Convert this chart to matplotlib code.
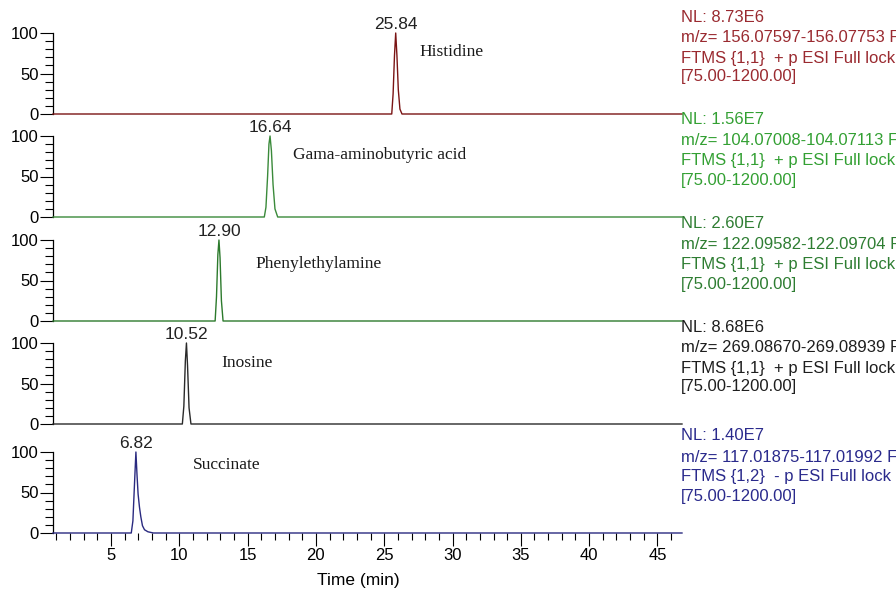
import numpy as np
import matplotlib
matplotlib.use('Agg')
import matplotlib.pyplot as plt
from matplotlib.ticker import MultipleLocator

plt.rcParams['font.family'] = ['Liberation Sans', 'DejaVu Sans']

# extracted ion chromatograms, one per compound (time in min, relative abundance in %)
compounds = ['Histidine', 'Gama-aminobutyric acid', 'Phenylethylamine', 'Inosine', 'Succinate']

his_time = [0.75, 25.55, 25.65, 25.75, 25.84, 25.93, 26.03, 26.15, 26.30, 46.8]
his_abund = [0, 0, 25, 72, 100, 72, 30, 6, 0, 0]

gaba_time = [0.75, 16.22, 16.34, 16.46, 16.56, 16.64, 16.74, 16.86, 17.00, 17.20, 46.8]
gaba_abund = [0, 0, 12, 50, 90, 100, 82, 40, 10, 0, 0]

pea_time = [0.75, 12.62, 12.72, 12.82, 12.90, 12.98, 13.08, 13.20, 46.8]
pea_abund = [0, 0, 30, 82, 100, 78, 25, 0, 0]

ino_time = [0.75, 10.22, 10.33, 10.44, 10.52, 10.60, 10.71, 10.85, 46.8]
ino_abund = [0, 0, 22, 78, 100, 72, 20, 0, 0]

suc_time = [0.75, 6.48, 6.60, 6.72, 6.82, 6.90, 6.98, 7.08, 7.18, 7.30, 7.45, 7.70, 8.10, 46.8]
suc_abund = [0, 0, 15, 62, 100, 72, 48, 32, 20, 9, 4, 1.5, 0, 0]

traces = [(his_time, his_abund), (gaba_time, gaba_abund), (pea_time, pea_abund),
          (ino_time, ino_abund), (suc_time, suc_abund)]

nl_values = ['8.73E6', '1.56E7', '2.60E7', '8.68E6', '1.40E7']
mz_ranges = ['156.07597-156.07753', '104.07008-104.07113', '122.09582-122.09704',
             '269.08670-269.08939', '117.01875-117.01992']
scan_filters = ['FTMS {1,1}  + p ESI Full lock', 'FTMS {1,1}  + p ESI Full lock',
                'FTMS {1,1}  + p ESI Full lock', 'FTMS {1,1}  + p ESI Full lock',
                'FTMS {1,2}  - p ESI Full lock']
scan_range = '[75.00-1200.00]'

line_colors = ['#7a1414', '#3a8a3a', '#2c7a2c', '#2a2a2a', '#2a2a80']
text_colors = ['#9a2a30', '#33a033', '#2e7d32', '#1e1e1e', '#2a2a8c']

# where the compound names sit (time, abundance)
name_pos = [(27.55, 71.5), (18.3, 71), (15.6, 65), (13.1, 70), (11.0, 79)]

W, H = 896, 591
fig = plt.figure(figsize=(W / 100, H / 100), dpi=100)

x0_px, x1_px = 53, 682
zero_px = [114, 217, 321, 424, 533]
panel_h = 81

for k, ((t, a), name) in enumerate(zip(traces, compounds)):
    bottom = 1 - zero_px[k] / H
    ax = fig.add_axes([x0_px / W, bottom, (x1_px - x0_px) / W, panel_h / H])
    ax.plot(t, a, color=line_colors[k], lw=1.0, clip_on=False, zorder=3)
    ax.set_xlim(0.75, 46.8)
    ax.set_ylim(0, 100)

    for side in ['top', 'right', 'bottom']:
        ax.spines[side].set_visible(False)
    ax.spines['left'].set_linewidth(0.9)
    ax.set_yticks([0, 50, 100])
    ax.yaxis.set_minor_locator(MultipleLocator(10))
    ax.tick_params(axis='y', which='major', length=9.5, width=0.8, pad=1, labelsize=12)
    ax.tick_params(axis='y', which='minor', length=5.5, width=0.8)

    if k < len(traces) - 1:
        ax.set_xticks([])
    else:
        ax.xaxis.set_minor_locator(MultipleLocator(1))
        ax.set_xticks(range(5, 46, 5))
        ax.tick_params(axis='x', which='major', length=9.5, width=0.8, pad=1.5, labelsize=12)
        ax.tick_params(axis='x', which='minor', length=5, width=0.8)

    # retention time label on top of the peak
    i_max = int(np.argmax(a))
    ax.annotate(f'{t[i_max]:.2f}', xy=(t[i_max], a[i_max]), xytext=(0, 3),
                textcoords='offset points', ha='center', va='baseline',
                fontsize=12.5, color='#222222', annotation_clip=False)

    nx, ny = name_pos[k]
    ax.text(nx, ny, name, fontsize=12.5, family='Liberation Serif',
            color='#1a1a1a', ha='left', va='baseline')

    # scan header at the right of each trace
    top_px = zero_px[k] - panel_h
    header = [f'NL: {nl_values[k]}', f'm/z= {mz_ranges[k]} F', scan_filters[k], scan_range]
    for line, dy in zip(header, [-16, 5, 25, 44]):
        fig.text(681 / W, 1 - (top_px + dy) / H, line, fontsize=12,
                 color=text_colors[k], ha='left', va='center')

fig.text(358 / W, 1 - 580 / H, 'Time (min)', fontsize=12.5, ha='center', va='center')

fig.savefig('out.png', dpi=100)
